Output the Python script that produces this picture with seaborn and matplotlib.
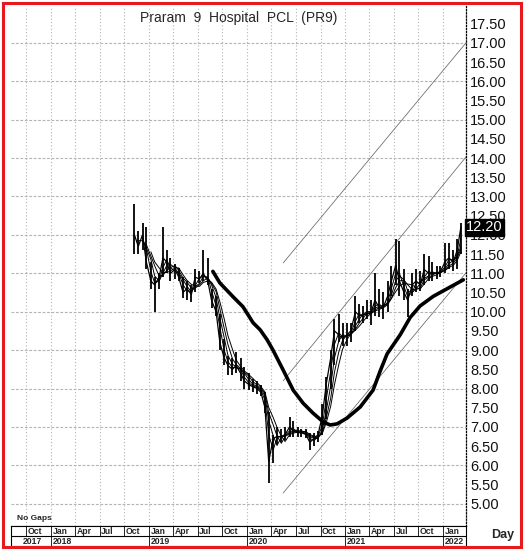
import numpy as np
import pandas as pd
import matplotlib
matplotlib.use("Agg")
import matplotlib.pyplot as plt
import matplotlib.transforms as mtransforms
from matplotlib.patches import Rectangle
import seaborn as sns

# ---------------- data ----------------
# semi-monthly periods starting 2018-11-01 (1st and 15th of each month)
period_start = pd.date_range("2018-11-01", periods=81, freq="SMS")
lows = [11.5, 11.5, 11.6, 11.1,
        10.6, 10.0, 10.6, 10.9, 11.0, 10.8, 10.85, 10.8, 10.35, 10.3, 10.25, 10.5,
        10.75, 10.8, 10.7, 10.1, 9.9, 9.0, 8.6, 8.35, 8.35, 8.4, 8.2, 8.0,
        7.95, 7.9, 7.85, 7.8, 7.35, 5.55, 6.05, 6.55, 6.6, 6.65, 6.75, 6.75,
        6.75, 6.75, 6.7, 6.4, 6.5, 6.6, 6.8, 7.2, 8.0, 8.6, 9.2, 9.1,
        9.1, 9.2, 9.5, 9.7, 9.7, 9.8, 9.65, 9.9, 9.85, 9.8, 10.0, 10.4,
        10.7, 10.4, 10.3, 9.85, 10.4, 10.5, 10.55, 10.7, 10.8, 10.8, 10.85, 10.9,
        11.0, 11.1, 11.05, 11.1, 11.5]
highs = [12.8, 12.1, 12.3, 12.2,
         11.3, 10.9, 11.0, 12.2, 11.6, 11.4, 11.25, 11.15, 10.9, 10.8, 10.7, 11.1,
         11.05, 11.6, 11.4, 10.6, 10.4, 9.95, 9.3, 8.85, 8.8, 8.95, 8.8, 8.55,
         8.4, 8.25, 8.2, 8.1, 7.9, 7.4, 6.8, 7.0, 6.95, 7.0, 7.25, 7.15,
         7.0, 6.95, 6.95, 6.85, 6.85, 6.9, 7.6, 8.3, 9.0, 9.8, 9.95, 9.7,
         9.7, 9.7, 10.4, 10.2, 10.15, 10.3, 10.3, 11.0, 10.6, 10.5, 10.8, 11.2,
         11.9, 11.85, 11.1, 10.6, 11.0, 11.1, 11.05, 11.5, 11.45, 11.3, 11.2, 11.2,
         11.8, 11.8, 11.6, 11.9, 12.3]
closes = [12.0, 11.7, 12.0, 11.3,
          10.8, 10.7, 10.9, 11.4, 11.3, 11.0, 11.1, 10.9, 10.5, 10.6, 10.45, 10.9,
          10.85, 11.0, 10.8, 10.3, 10.0, 9.2, 8.8, 8.6, 8.5, 8.6, 8.4, 8.2,
          8.1, 8.05, 8.0, 7.9, 7.5, 6.1, 6.7, 6.75, 6.75, 6.8, 7.0, 6.9,
          6.85, 6.85, 6.8, 6.6, 6.7, 6.8, 7.3, 8.1, 8.8, 9.5, 9.4, 9.3,
          9.4, 9.5, 10.0, 9.9, 9.9, 10.0, 10.0, 10.3, 10.1, 10.1, 10.4, 10.8,
          11.2, 10.8, 10.5, 10.3, 10.7, 10.8, 10.7, 11.1, 11.0, 11.0, 11.0, 11.05,
          11.3, 11.4, 11.3, 11.6, 12.2]
thin_windows = [2, 3, 4, 5]

long_ma_dates = ["2019-08-27", "2019-09-22", "2019-11-10", "2019-12-17", "2020-01-24",
                 "2020-02-19", "2020-03-16", "2020-04-07", "2020-05-15", "2020-06-21",
                 "2020-07-28", "2020-09-03", "2020-10-11", "2020-11-06", "2020-12-02",
                 "2021-01-08", "2021-02-26", "2021-04-15", "2021-05-11", "2021-06-06",
                 "2021-07-25", "2021-08-31", "2021-10-07", "2021-11-25", "2022-01-16",
                 "2022-03-17"]
long_ma_vals = [11.05, 10.75, 10.39, 10.13, 9.71, 9.53, 9.27, 9.0, 8.48, 7.96,
                7.62, 7.36, 7.13, 7.05, 7.08, 7.23, 7.52, 7.96, 8.45, 8.9,
                9.4, 9.85, 10.15, 10.4, 10.6, 10.83]

channel_dates = ["2020-05-15", "2022-03-27"]
channel_upper = [11.27, 17.0]
channel_mid = [8.2, 14.03]
channel_lower = [5.28, 11.01]

last_price = 12.20
title = "Praram  9  Hospital  PCL  (PR9)"
y_ticks = [5.0, 5.5, 6.0, 6.5, 7.0, 7.5, 8.0, 8.5, 9.0, 9.5, 10.0, 10.5, 11.0, 11.5,
           12.0, 12.5, 13.0, 13.5, 14.0, 14.5, 15.0, 15.5, 16.0, 16.5, 17.0, 17.5]
quarter_dates = pd.date_range("2017-10-01", "2022-01-01", freq="QS")
month_names = {1: "Jan", 4: "Apr", 7: "Jul", 10: "Oct"}
year_label_dates = ["2017-10-01", "2018-01-01", "2019-01-01", "2020-01-01", "2021-01-01", "2022-01-01"]

# ---------------- figure ----------------
sns.set_style("white")
plt.rcParams['font.family'] = ['Liberation Sans Narrow', 'Liberation Sans', 'DejaVu Sans']

W, H = 524, 550
fig = plt.figure(figsize=(W / 100, H / 100), dpi=100)

def fx(px):
    return px / W

def fy(py):
    return 1 - py / H

ax = fig.add_axes([fx(11), fy(526), fx(466) - fx(11), fy(6) - fy(526)])
ax.set_axisbelow(True)

df = pd.DataFrame({"date": period_start + pd.Timedelta(days=7),
                   "low": lows, "high": highs, "close": closes})

# high-low bars
ax.vlines(df["date"], df["low"], df["high"], color="black", lw=1.3, zorder=3)
sns.lineplot(data=df, x="date", y="close", ax=ax, color="black", lw=0.9, zorder=3)

# thin moving averages
for w in thin_windows:
    ma = df["close"].rolling(w, min_periods=w).mean()
    sns.lineplot(x=df["date"], y=ma, ax=ax, color="black", lw=0.7, zorder=4)

# long moving average
lma = pd.DataFrame({"date": pd.to_datetime(long_ma_dates), "v": long_ma_vals})
sns.lineplot(data=lma, x="date", y="v", ax=ax, color="black", lw=2.6, zorder=5)

# channel lines
cd = pd.to_datetime(channel_dates)
for vals in (channel_upper, channel_mid, channel_lower):
    sns.lineplot(x=cd, y=vals, ax=ax, color="#666666", lw=0.55, zorder=2)

ax.set_xlim(pd.Timestamp("2017-08-05"), pd.Timestamp("2022-03-27"))
ax.set_ylim(4.42, 17.96)
ax.set_xlabel("")
ax.set_ylabel("")

# grid lines
for d in quarter_dates:
    ax.axvline(d, color="#b4b4b4", lw=0.8, ls=(0, (1, 2)), zorder=1)
for t in y_ticks:
    if float(t).is_integer():
        ax.axhline(t, color="#b4b4b4", lw=0.8, ls=(0, (2.5, 1.5)), zorder=1)

ax.set_xticks(quarter_dates)
ax.set_xticklabels([])
ax.yaxis.tick_right()
ax.set_yticks(y_ticks)
ax.set_yticklabels([f"{v:.2f}" for v in y_ticks])
ax.tick_params(axis="both", which="both", length=0)
ax.tick_params(axis="y", labelsize=10.5, pad=3, colors="#111111")
ax.grid(False)
for s in ("left", "top"):
    ax.spines[s].set_visible(False)
ax.spines["right"].set_linestyle((0, (1, 1.5)))
ax.spines["right"].set_color("black")
ax.spines["right"].set_linewidth(0.9)
ax.spines["bottom"].set_color("black")
ax.spines["bottom"].set_linewidth(0.8)

# last price box
trans = mtransforms.blended_transform_factory(ax.transAxes, ax.transData)
ax.text(1.0, last_price, f"{last_price:.2f}", transform=trans, ha="left", va="center",
        fontsize=10.5, color="white", clip_on=False, zorder=10,
        bbox=dict(boxstyle="square,pad=0.1", fc="black", ec="black"))

ax.text(0.013, 0.008, "No Gaps", transform=ax.transAxes, fontsize=6,
        fontweight="bold", ha="left", va="bottom")

# date band
bax = fig.add_axes([fx(11), fy(546), fx(466) - fx(11), fy(526) - fy(546)])
bax.set_xlim(ax.get_xlim())
bax.set_ylim(0, 2)
bax.set_xticks([])
bax.set_yticks([])
for s in bax.spines.values():
    s.set_color("black")
    s.set_linewidth(0.8)
bax.axhline(1, color="black", lw=0.8)
bax.vlines(quarter_dates, 1, 2, color="black", lw=0.6)
ydates = pd.to_datetime(year_label_dates)
bax.vlines(ydates[1:], 0, 1, color="black", lw=0.6)
for d in quarter_dates:
    bax.text(d + pd.Timedelta(days=6), 1.48, month_names[d.month], fontsize=6.2,
             fontweight="bold", ha="left", va="center")
for d in ydates:
    bax.text(d + pd.Timedelta(days=-14 if d.month == 10 else 6), 0.48, str(d.year),
             fontsize=6.2, fontweight="bold", ha="left", va="center")

fig.text(fx(239), fy(18), title, fontsize=10, ha="center", va="center")
fig.text(fx(503), fy(535), "Day", fontsize=9, fontweight="bold", ha="center", va="center")

fig.add_artist(Rectangle((fx(3), fy(547)), fx(521) - fx(3), fy(3) - fy(547),
                         transform=fig.transFigure, fill=False, ec="#e8191c", lw=2.2))

fig.savefig("out.png", dpi=100)
